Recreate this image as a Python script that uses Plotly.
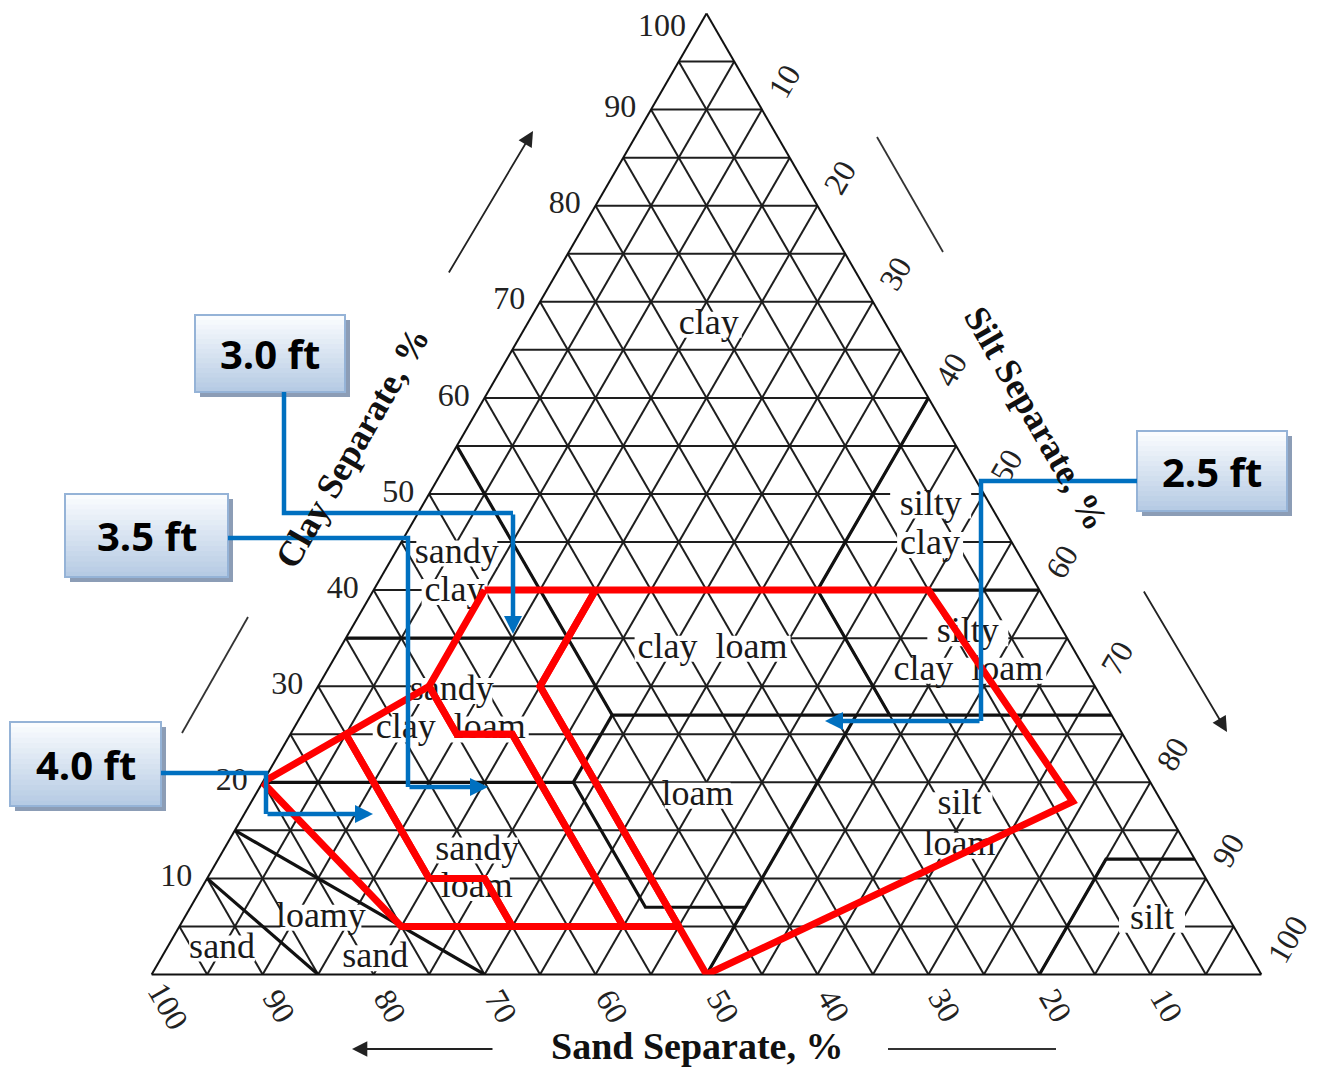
import plotly.graph_objects as go

W, H = 1329, 1070
OFF = 8  # the page body adds an 8 px margin around the figure

# grid every 5 %, labels every 10 %
grid_vals = [0, 5, 10, 15, 20, 25, 30, 35, 40, 45, 50, 55, 60, 65, 70, 75, 80, 85, 90, 95, 100]
silt_text = ['', '', '10', '', '20', '', '30', '', '40', '', '50', '', '60', '', '70', '', '80', '', '90', '', '100']
clay_text = ['', '', '10', '', '20', '', '30', '', '40', '', '50', '', '60', '', '70', '', '80', '', '90', '', '']
sand_ticks = [100, 90, 80, 70, 60, 50, 40, 30, 20, 10]

# USDA class boundaries, one polyline per list (clay / silt / sand, %)
bnd_clay = [[10, 0], [15, 0], [20, 20, 7, 7, 0], [20, 27], [27, 27], [27, 7],
            [55, 27], [35, 35], [40, 40], [60, 40, 27], [12, 12, 0]]
bnd_silt = [[0, 15], [0, 30], [0, 28, 41, 50, 50], [28, 28], [28, 73], [50, 50],
            [0, 28], [0, 20], [15, 60], [40, 40, 53], [88, 80, 80]]
bnd_sand = [[90, 85], [85, 70], [80, 52, 52, 43, 50], [52, 45], [45, 0], [23, 43],
            [45, 45], [65, 45], [45, 0], [0, 20, 20], [0, 8, 20]]

# texture class names, one word group per point
cls_name = ['clay', 'sandy', 'clay', 'silty', 'clay', 'clay  loam', 'silty', 'clay  loam',
            'sandy', 'clay  loam', 'loam', 'silt', 'loam', 'sandy', 'loam',
            'loamy', 'sand', 'sand', 'silt']
cls_clay = [67.6, 43.8, 39.8, 48.8, 44.7, 33.9, 35.5, 31.6, 29.5, 25.5, 18.6, 17.6, 13.4,
            12.9, 9.0, 5.9, 1.7, 2.7, 5.7]
cls_silt = [16.4, 5.6, 7.4, 45.8, 47.8, 33.6, 55.8, 57.8, 12.3, 14.2, 39.9, 64.0, 66.1,
            22.9, 24.8, 12.3, 19.3, 5.0, 87.3]
cls_sand = [16.0, 50.6, 52.8, 5.4, 7.5, 32.5, 8.7, 10.6, 58.2, 60.3, 41.5, 18.4, 20.5,
            64.2, 66.2, 81.8, 79.0, 92.3, 7.0]

# texture envelopes by depth (red outlines)
depth_names = ['2.5 ft', '3.0 ft', '3.5 ft', '4.0 ft']
env_clay = [[40, 40, 18, 0, 30, 40],
            [40, 40, 30, 5, 5, 25, 25, 30, 40],
            [30, 25, 25, 5, 5, 10, 10, 25, 30],
            [20, 25, 10, 10, 5, 5, 20]]
env_silt = [[20, 50, 74, 50, 20, 20],
            [10, 20, 20, 45, 40, 20, 15, 10, 10],
            [10, 15, 20, 40, 30, 25, 20, 5, 10],
            [0, 5, 20, 25, 30, 20, 0]]
env_sand = [[40, 10, 8, 50, 50, 40],
            [50, 40, 50, 50, 55, 55, 60, 60, 50],
            [60, 60, 55, 55, 65, 65, 70, 70, 60],
            [80, 70, 70, 65, 65, 75, 80]]

# callouts: box (x0, y0, x1, y1) and elbow path, in page pixels
box_rect = [(1137, 431, 1287, 511), (195, 315, 345, 392), (65, 494, 228, 577), (10, 722, 161, 806)]
callout_path = [[(1137, 481), (981, 481), (981, 721), (825, 721)],
                [(284, 392), (284, 513), (513, 513), (513, 634)],
                [(228, 538), (408, 538), (408, 787), (488, 787)],
                [(161, 773), (266, 773), (266, 814), (373, 814)]]

BLUE = '#0070C0'
SERIF = 'Liberation Serif'

# triangle placement on the page (pixels)
TRI_BASE, TRI_TOP, TRI_CX = 974.5, 13.5, 706.5
SIDE = (TRI_BASE - TRI_TOP) * 2 / 3 ** 0.5


def px(x):
    return (x - OFF) / W


def py(y):
    return 1 - (y - OFF) / H


fig = go.Figure()

# class names on a white strip that interrupts the grid, as in the printed chart
# (a 'line-ew' marker is 1.4 x its size long)
strip_len = [(15 * len(t) + 6) / 1.4 for t in cls_name]
fig.add_trace(go.Scatterternary(a=cls_clay, b=cls_sand, c=cls_silt, mode='markers+text',
                                text=cls_name,
                                marker=dict(symbol='line-ew', size=strip_len, opacity=1,
                                            line=dict(color='white', width=26)),
                                textfont=dict(family=SERIF, size=36, color='#1a1a1a'),
                                textposition='middle center',
                                hoverinfo='skip', showlegend=False))

for c, s, sa in zip(bnd_clay, bnd_silt, bnd_sand):
    fig.add_trace(go.Scatterternary(a=c, b=sa, c=s, mode='lines',
                                    line=dict(color='#111111', width=3.2),
                                    hoverinfo='skip', showlegend=False))

for name, c, s, sa in zip(depth_names, env_clay, env_silt, env_sand):
    fig.add_trace(go.Scatterternary(a=c, b=sa, c=s, mode='lines', name=name,
                                    line=dict(color='#ff0000', width=7),
                                    hoverinfo='skip', showlegend=False))

axis = dict(tickmode='array', tickvals=grid_vals, ticktext=silt_text,
            showgrid=True, gridcolor='#1e1e1e', gridwidth=1.5,
            showline=True, linecolor='#111111', linewidth=2,
            ticks='outside', ticklen=10, tickcolor='rgba(0,0,0,0)',
            tickfont=dict(family=SERIF, size=32, color='#222222'),
            title=dict(text=''), layer='below traces')

fig.update_layout(
    width=W, height=H,
    margin=dict(l=0, r=0, t=0, b=0),
    paper_bgcolor='white',
    showlegend=False,
    hovermode=False,
    ternary=dict(
        sum=100,
        bgcolor='white',
        domain=dict(x=[px(TRI_CX - SIDE / 2 - 20), px(TRI_CX + SIDE / 2 + 20)],
                    y=[py(TRI_BASE), py(TRI_TOP)]),
        aaxis=dict(axis, tickangle=0, ticktext=clay_text),
        baxis=dict(axis, showticklabels=False, ticks=''),
        caxis=dict(axis, tickangle=-60),
    ),
)

shapes = []
annotations = []

# apex label of the clay axis
annotations.append(dict(x=px(662), y=py(25), xref='paper', yref='paper', text='100',
                        showarrow=False, xanchor='center', yanchor='middle',
                        font=dict(family=SERIF, size=32, color='#222222')))

# sand axis labels, set along the extension of each sand grid line
for v in sand_ticks:
    tx = TRI_CX - SIDE / 2 + (100 - v) / 100 * SIDE
    annotations.append(dict(x=px(tx + 17), y=py(TRI_BASE + 31), xref='paper', yref='paper',
                            text=str(v), showarrow=False, xanchor='center', yanchor='middle',
                            textangle=60, font=dict(family=SERIF, size=32, color='#222222')))

# axis titles
annotations.append(dict(x=px(697), y=py(1046), xref='paper', yref='paper', text='Sand Separate, %',
                        showarrow=False, xanchor='center', yanchor='middle',
                        font=dict(family=SERIF, size=38, color='#111111', weight='bold')))
annotations.append(dict(x=px(352), y=py(448), xref='paper', yref='paper', text='Clay Separate, %',
                        showarrow=False, xanchor='center', yanchor='middle', textangle=-60,
                        font=dict(family=SERIF, size=36, color='#111111', weight='bold')))
annotations.append(dict(x=px(1036), y=py(418), xref='paper', yref='paper', text='Silt Separate, %',
                        showarrow=False, xanchor='center', yanchor='middle', textangle=60,
                        font=dict(family=SERIF, size=36, color='#111111', weight='bold')))

# direction arrows and plain side rules
for tip, tail in [((533, 131), (448, 274)), ((1227, 732), (1143, 590)), ((352, 1049), (494, 1049))]:
    annotations.append(dict(x=px(tip[0]), y=py(tip[1]), xref='paper', yref='paper',
                            ax=tail[0] - tip[0], ay=tail[1] - tip[1], text='',
                            showarrow=True, arrowhead=2, arrowsize=1.7, arrowwidth=1.8,
                            arrowcolor='#222222', standoff=0))
for p0, p1 in [((877, 137), (943, 252)), ((182, 733), (248, 617)), ((888, 1049), (1056, 1049))]:
    shapes.append(dict(type='line', xref='paper', yref='paper',
                       x0=px(p0[0]), y0=py(p0[1]), x1=px(p1[0]), y1=py(p1[1]),
                       line=dict(color='#333333', width=1.8)))

# callout boxes with a soft gradient and shadow
top_rgb = (250, 252, 254)
bot_rgb = (182, 203, 228)
n_strip = 16
for name, (x0, y0, x1, y1), path in zip(depth_names, box_rect, callout_path):
    shapes.append(dict(type='rect', xref='paper', yref='paper',
                       x0=px(x0 + 5), y0=py(y0 + 5), x1=px(x1 + 5), y1=py(y1 + 5),
                       fillcolor='#8c9db6', line=dict(width=0)))
    for i in range(n_strip):
        t = i / (n_strip - 1)
        col = 'rgb(%d,%d,%d)' % tuple(round(a + (b - a) * t) for a, b in zip(top_rgb, bot_rgb))
        ya = y0 + (y1 - y0) * i / n_strip
        yb = min(y1, y0 + (y1 - y0) * (i + 1) / n_strip + 1.5)
        shapes.append(dict(type='rect', xref='paper', yref='paper',
                           x0=px(x0), y0=py(ya), x1=px(x1), y1=py(yb),
                           fillcolor=col, line=dict(width=0)))
    shapes.append(dict(type='rect', xref='paper', yref='paper',
                       x0=px(x0), y0=py(y0), x1=px(x1), y1=py(y1),
                       fillcolor='rgba(0,0,0,0)', line=dict(color='#95b3d7', width=2)))
    annotations.append(dict(x=px((x0 + x1) / 2), y=py((y0 + y1) / 2), xref='paper', yref='paper',
                            text=name, showarrow=False, xanchor='center', yanchor='middle',
                            font=dict(family='Open Sans', size=40, color='#000000', weight='bold')))
    d = 'M %f %f' % (px(path[0][0]), py(path[0][1]))
    for x, y in path[1:-1]:
        d += ' L %f %f' % (px(x), py(y))
    shapes.append(dict(type='path', xref='paper', yref='paper', path=d,
                       line=dict(color=BLUE, width=4.5)))
    (tx, ty), (cx, cy) = path[-1], path[-2]
    annotations.append(dict(x=px(tx), y=py(ty), xref='paper', yref='paper',
                            ax=cx - tx, ay=cy - ty, text='', showarrow=True,
                            arrowhead=2, arrowsize=0.8, arrowwidth=4.5,
                            arrowcolor=BLUE, standoff=0))

fig.update_layout(shapes=shapes, annotations=annotations)

fig.write_html("out.html")
